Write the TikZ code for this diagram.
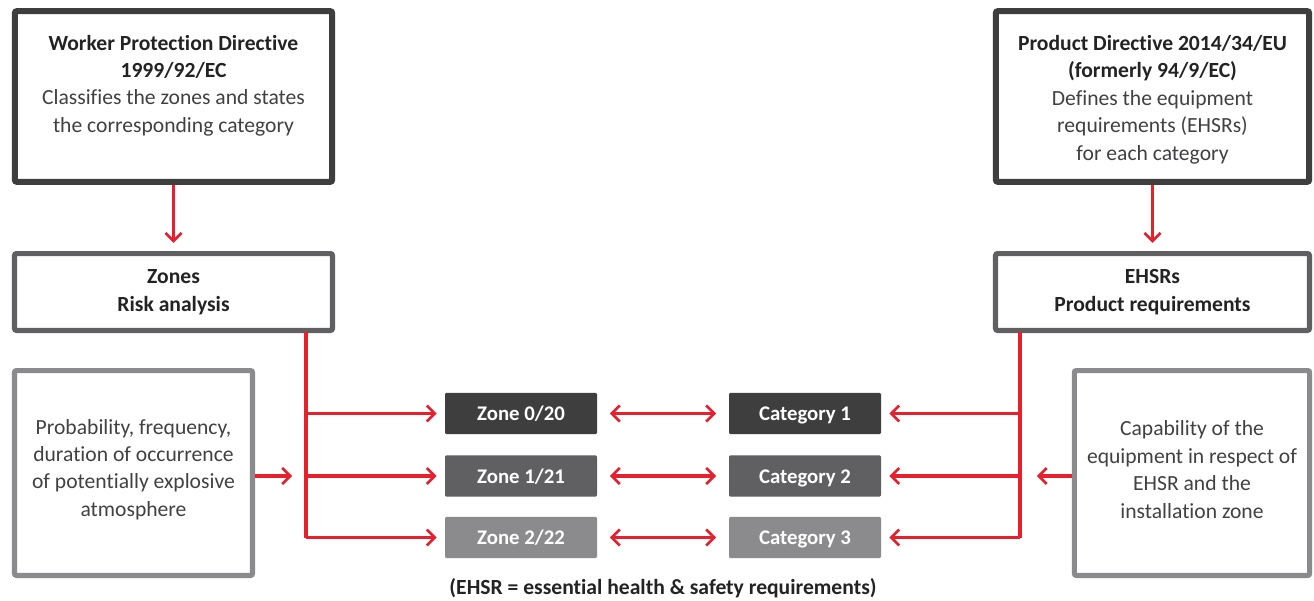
\documentclass[tikz,border=0pt]{standalone}
\usepackage{fontspec}
\setmainfont[Ligatures={NoCommon,NoContextual}]{Carlito}
\usetikzlibrary{arrows.meta}
\definecolor{abbred}{RGB}{230,32,45}
\definecolor{dk}{RGB}{62,62,62}
\definecolor{md}{RGB}{96,96,98}
\definecolor{lt}{RGB}{139,139,142}
\definecolor{txt}{RGB}{35,35,35}
\definecolor{txtr}{RGB}{65,65,68}
\tikzset{
  box/.style={draw, fill=white, rounded corners=1.5pt, inner sep=0pt},
  tx/.style={align=center, font=\fontsize{16.2}{20.6}\selectfont, text=txtr},
  zbox/.style={fill=#1, rounded corners=1pt, minimum width=114pt, minimum height=31pt, inner sep=0pt,
     text height=12pt, text depth=1.5pt,
     text=white, font=\fontsize{15.6}{17}\selectfont\bfseries},
  redln/.style={draw=abbred, line width=2.3pt},
  redar/.style={redln, -{Straight Barb[length=6pt,width=12pt,line width=2pt]}},
  redarr/.style={redln, {Straight Barb[length=6pt,width=12pt,line width=2pt]}-{Straight Barb[length=6pt,width=12pt,line width=2pt]}},
}
\begin{document}
\begin{tikzpicture}[x=0.75pt, y=-0.75pt]
\useasboundingbox[fill=white] (0,0) rectangle (1314,600);
% top boxes
\node[box, draw=dk, line width=4.5pt, minimum width=238pt, minimum height=128pt] (wpd) at (173.5,96.5) {};
\node[tx] (wpdt) at (173.5,85.5) {\textbf{\color{txt}Worker Protection Directive}\\\textbf{\color{txt}1999/92/EC}\\Classifies the zones and states\\the corresponding category};
\node[box, draw=dk, line width=4.5pt, minimum width=235pt, minimum height=128pt] (pd) at (1152.5,96.5) {};
\node[tx] (pdt) at (1152.5,99.5) {\textbf{\color{txt}Product Directive 2014/34/EU}\\\textbf{\color{txt}(formerly 94/9/EC)}\\Defines the equipment\\requirements (EHSRs)\\for each category};
% second row
\node[box, draw=md, line width=3.8pt, minimum width=238.5pt, minimum height=57.7pt, tx, text=txt, font=\fontsize{16.2}{20.6}\selectfont\bfseries] (zones) at (173.5,292) {Zones\\Risk analysis};
\node[box, draw=md, line width=3.8pt, minimum width=235.5pt, minimum height=57.7pt, tx, text=txt, font=\fontsize{16.2}{20.6}\selectfont\bfseries] (ehsr) at (1152.5,292) {EHSRs\\Product requirements};
% side boxes
\node[box, draw=lt, line width=3.8pt, minimum width=178.5pt, minimum height=153.7pt] (prob) at (133.5,473) {};
\node[tx] (probt) at (133.5,469.5) {Probability, frequency,\\duration of occurrence\\of potentially explosive\\atmosphere};
\node[box, draw=lt, line width=3.8pt, minimum width=176.5pt, minimum height=153.7pt] (cap) at (1192,473) {};
\node[tx] (capt) at (1192,469.5) {Capability of the\\equipment in respect of\\EHSR and the\\installation zone};
% zone and category boxes
\node[zbox=dk] (z0) at (521,413.5) {Zone 0/20};
\node[zbox=md] (z1) at (521,476) {Zone 1/21};
\node[zbox=lt] (z2) at (521,537.5) {Zone 2/22};
\node[zbox=dk] (c1) at (805,413.5) {Category 1};
\node[zbox=md] (c2) at (805,476) {Category 2};
\node[zbox=lt] (c3) at (805,537.5) {Category 3};
% coordinates
\coordinate (lb) at (306,538);
\coordinate (rb) at (1020,538);
% connectors
\draw[redar] (wpd.south) -- ++(0,58) coordinate (wpdend);
\draw[redar] (pd.south) -- ++(0,58) coordinate (pdend);
\draw[redln] (306,332) -- (lb);
\draw[redln] (1020,332) -- (rb);
\draw[redar] (306,413.5) -- ([xshift=-6pt]z0.west);
\draw[redar] (306,476) -- ([xshift=-6pt]z1.west);
\draw[redar] (lb|-z2) -- ([xshift=-6pt]z2.west);
\draw[redar] (1020,413.5) -- ([xshift=6pt]c1.east);
\draw[redar] (1020,476) -- ([xshift=6pt]c2.east);
\draw[redar] (rb|-c3) -- ([xshift=6pt]c3.east);
\draw[redar] (prob.east|-z1) -- ++(37,0);
\draw[redar] (cap.west|-c2) -- ++(-35,0);
\draw[redarr] ([xshift=9.5pt]z0.east) -- ([xshift=-9.5pt]c1.west);
\draw[redarr] ([xshift=9.5pt]z1.east) -- ([xshift=-9.5pt]c2.west);
\draw[redarr] ([xshift=9.5pt]z2.east) -- ([xshift=-9.5pt]c3.west);
% footnote
\node[font=\fontsize{16.2}{17}\selectfont\bfseries, text=txt] (note) at (663,588) {(EHSR = essential health \& safety requirements)};
\end{tikzpicture}
\end{document}
